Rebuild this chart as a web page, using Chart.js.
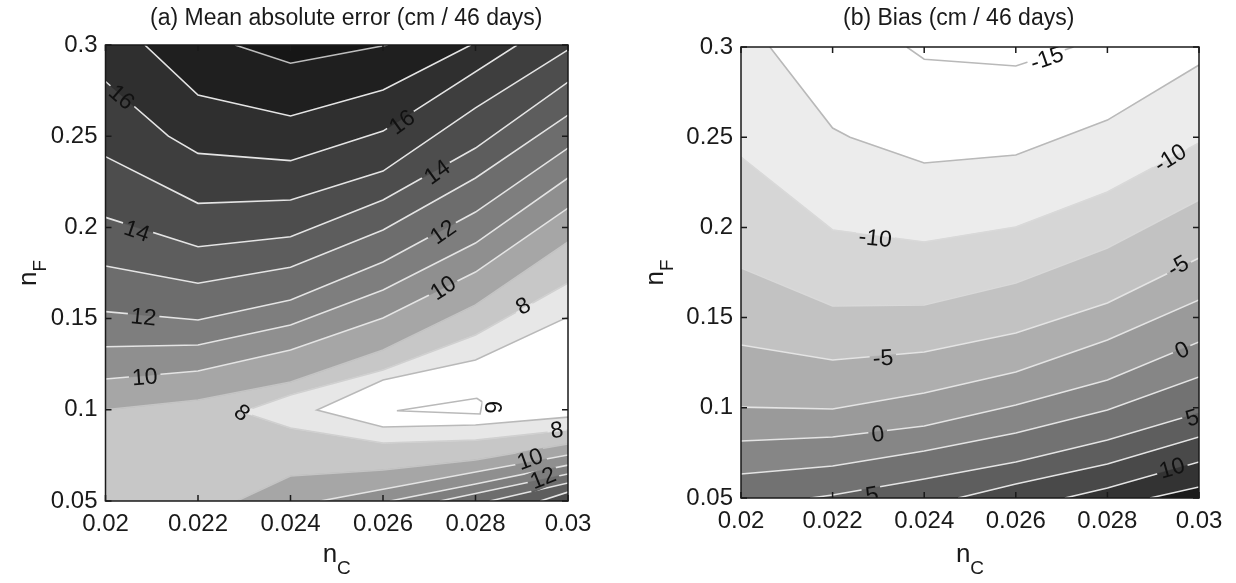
<!DOCTYPE html>
<html>
<head>
<meta charset="utf-8">
<title>Mean absolute error and bias vs nC / nF</title>
<script src="https://cdn.jsdelivr.net/npm/chart.js@4.4.1/dist/chart.umd.min.js"></script>
<style>
  body { margin: 0; background: #fff; }
  #figure { position: relative; width: 1236px; height: 583px; }
  .panel { position: absolute; top: 0; width: 618px; height: 583px; }
</style>
</head>
<body>
<div id="figure">
  <div class="panel" style="left:0"><canvas id="maeChart"></canvas></div>
  <div class="panel" style="left:618px"><canvas id="biasChart"></canvas></div>
</div>
<script>
// axis ticks shared by both panels
const xTicks = [0.02, 0.022, 0.024, 0.026, 0.028, 0.03];
const xTickLabels = ['0.02', '0.022', '0.024', '0.026', '0.028', '0.03'];
const yTicks = [0.05, 0.1, 0.15, 0.2, 0.25, 0.3];
const yTickLabels = ['0.05', '0.1', '0.15', '0.2', '0.25', '0.3'];

// (a) mean absolute error, contour lines as [nC, nF]
const mae18 = [[0.0228, 0.3], [0.024, 0.290], [0.0261, 0.3]];
const mae17 = [[0.02085, 0.3], [0.022, 0.2726], [0.024, 0.2611], [0.026, 0.2753], [0.0279, 0.3]];
const mae16 = [[0.02, 0.28], [0.02136, 0.25], [0.022, 0.2406], [0.024, 0.2366], [0.026, 0.2528], [0.0289, 0.3]];
const mae15 = [[0.02, 0.2388], [0.022, 0.2132], [0.024, 0.215], [0.026, 0.2309], [0.028, 0.2655], [0.03, 0.2973]];
const mae14 = [[0.02, 0.2055], [0.022, 0.1894], [0.024, 0.1949], [0.026, 0.215], [0.028, 0.2435], [0.03, 0.2797]];
const mae13 = [[0.02, 0.1788], [0.022, 0.1694], [0.024, 0.1781], [0.026, 0.1986], [0.028, 0.2271], [0.03, 0.2616]];
const mae12 = [[0.02, 0.1538], [0.022, 0.1492], [0.024, 0.1602], [0.026, 0.181], [0.028, 0.2084], [0.03, 0.2435]];
const mae11 = [[0.02, 0.1346], [0.022, 0.1355], [0.024, 0.1465], [0.026, 0.1657], [0.028, 0.1914], [0.03, 0.2271]];
const mae10 = [[0.02, 0.1169], [0.022, 0.1213], [0.024, 0.1328], [0.026, 0.1503], [0.028, 0.1755], [0.03, 0.2106]];
const mae9 = [[0.02, 0.1], [0.022, 0.1054], [0.024, 0.1152], [0.026, 0.1328], [0.028, 0.1575], [0.03, 0.192]];
const mae8 = [[0.03, 0.1695], [0.028, 0.141], [0.026, 0.1218], [0.024, 0.1081], [0.02295, 0.0988],
              [0.024, 0.09], [0.026, 0.0818], [0.028, 0.0834], [0.03, 0.0889]];
const mae7 = [[0.03, 0.1509], [0.028, 0.1273], [0.026, 0.1163], [0.02457, 0.0999],
              [0.026, 0.0906], [0.028, 0.0917], [0.03, 0.096]];
const mae6 = [[0.0263, 0.0995], [0.02803, 0.1063], [0.02815, 0.1043], [0.0281, 0.0977], [0.0263, 0.0995]];
// lower right branches
const mae9low = [[0.02284, 0.05], [0.024, 0.0637], [0.026, 0.067], [0.028, 0.0725], [0.03, 0.0813]];
const mae10low = [[0.02464, 0.05], [0.026, 0.0564], [0.028, 0.0659], [0.03, 0.0752]];
const mae11low = [[0.02615, 0.05], [0.028, 0.0593], [0.03, 0.0697]];
const mae12low = [[0.02723, 0.05], [0.028, 0.0541], [0.03, 0.0648]];
const mae13low = [[0.02831, 0.05], [0.03, 0.0599]];
const mae14low = [[0.0294, 0.05], [0.03, 0.0549]];
// inline labels: text, nC, nF, angle
const maeLabels = [
  ['16', 0.02035, 0.2715, 41], ['14', 0.02068, 0.198, 19], ['12', 0.02082, 0.1509, 6],
  ['10', 0.02085, 0.118, -4], ['8', 0.02295, 0.0985, 38], ['16', 0.02641, 0.2578, -36],
  ['14', 0.02717, 0.2304, -36], ['12', 0.0273, 0.1975, -35], ['10', 0.0273, 0.1668, -33],
  ['8', 0.02903, 0.1569, -30], ['6', 0.02836, 0.1015, 90], ['8', 0.02976, 0.0889, -8],
  ['10', 0.02918, 0.073, -20], ['12', 0.02946, 0.0626, -22]
];

// (b) bias, contour lines
const biasM15 = [[0.02362, 0.3], [0.024, 0.2932], [0.026, 0.2895], [0.02726, 0.3]];
const biasM125 = [[0.02063, 0.3], [0.022, 0.2551], [0.02238, 0.25], [0.024, 0.2357], [0.026, 0.2401], [0.028, 0.2595], [0.03, 0.29]];
const biasM10 = [[0.02, 0.239], [0.022, 0.1986], [0.024, 0.1919], [0.026, 0.2002], [0.028, 0.2196], [0.03, 0.2468]];
const biasM75 = [[0.02, 0.1775], [0.022, 0.1564], [0.024, 0.157], [0.026, 0.1692], [0.028, 0.1886], [0.03, 0.2152]];
const biasM5 = [[0.02, 0.1348], [0.022, 0.1265], [0.024, 0.1309], [0.026, 0.1415], [0.028, 0.1581], [0.03, 0.183]];
const biasM25 = [[0.02, 0.1004], [0.022, 0.0993], [0.024, 0.1082], [0.026, 0.1198], [0.028, 0.1376], [0.03, 0.1598]];
const bias0 = [[0.02, 0.0816], [0.022, 0.0838], [0.024, 0.0899], [0.026, 0.1016], [0.028, 0.1154], [0.03, 0.1365]];
const biasP25 = [[0.02, 0.0633], [0.022, 0.0677], [0.024, 0.0761], [0.026, 0.086], [0.028, 0.0988], [0.03, 0.1171]];
const biasP5 = [[0.02151, 0.05], [0.022, 0.0517], [0.024, 0.0605], [0.026, 0.07], [0.028, 0.0822], [0.03, 0.0971]];
const biasP75 = [[0.02474, 0.05], [0.026, 0.0578], [0.028, 0.0688], [0.03, 0.0838]];
const biasP10 = [[0.02707, 0.05], [0.028, 0.0555], [0.03, 0.07]];
const biasP125 = [[0.02893, 0.05], [0.03, 0.0561]];
const biasLabels = [
  ['-15', 0.02668, 0.2937, -19], ['-10', 0.02293, 0.1941, 6], ['-10', 0.02937, 0.2385, -32],
  ['-5', 0.0231, 0.1276, -4], ['-5', 0.02954, 0.1786, -30], ['0', 0.02299, 0.0855, -6],
  ['0', 0.02963, 0.132, -26], ['5', 0.02286, 0.0517, -10], ['5', 0.02985, 0.0944, -17],
  ['10', 0.02941, 0.0666, -16]
];

const FONT = '"Liberation Sans", Arial, Helvetica, sans-serif';
const TL = [0.02, 0.3], TR = [0.03, 0.3], BR = [0.03, 0.05], BL = [0.02, 0.05];

function area(pts, color) {
  return {
    data: pts.map(([x, y]) => ({x, y})),
    showLine: true, fill: 'shape', tension: 0,
    backgroundColor: color, borderColor: color, borderWidth: 0.6,
    pointRadius: 0, pointHoverRadius: 0
  };
}
function isoline(pts, color) {
  return {
    data: pts.map(([x, y]) => ({x, y})),
    showLine: true, fill: false, tension: 0,
    borderColor: color, borderWidth: 1.6,
    pointRadius: 0, pointHoverRadius: 0, isContour: true
  };
}

const LIGHT = '#e4e4e4', GREY = '#b9b9b9';

const maeAreas = [
  area([BL, BR, TR, TL], '#c7c7c7'),
  area([...mae9, TR, TL], '#a6a6a6'), area([...mae9low, BR], '#a6a6a6'),
  area([...mae10, TR, TL], '#8f8f8f'), area([...mae10low, BR], '#8f8f8f'),
  area([...mae11, TR, TL], '#7e7e7e'), area([...mae11low, BR], '#7e7e7e'),
  area([...mae12, TR, TL], '#6d6d6d'), area([...mae12low, BR], '#6d6d6d'),
  area([...mae13, TR, TL], '#5d5d5d'), area([...mae13low, BR], '#5d5d5d'),
  area([...mae14, TR, TL], '#4d4d4d'), area([...mae14low, BR], '#4d4d4d'),
  area([...mae15, TR, TL], '#3e3e3e'),
  area([...mae16, TL], '#2f2f2f'),
  area(mae17, '#1f1f1f'),
  area(mae18, '#161616'),
  area(mae8, '#e7e7e7'),
  area(mae7, '#ffffff')
];
const maeLines = [
  isoline(mae18, '#bdbdbd'), isoline(mae17, LIGHT), isoline(mae16, LIGHT), isoline(mae15, LIGHT),
  isoline(mae14, LIGHT), isoline(mae13, LIGHT), isoline(mae12, LIGHT), isoline(mae11, LIGHT),
  isoline(mae10, LIGHT), isoline(mae9, '#c4c4c4'),
  isoline(mae9low, '#c4c4c4'), isoline(mae10low, LIGHT), isoline(mae11low, LIGHT),
  isoline(mae12low, LIGHT), isoline(mae13low, LIGHT), isoline(mae14low, LIGHT),
  isoline(mae8, '#d0d0d0'), isoline(mae7, GREY), isoline(mae6, GREY)
];

const biasAreas = [
  area([BL, BR, TR, TL], '#ffffff'),
  area([...biasM125, BR, BL, TL], '#ececec'),
  area([...biasM10, BR, BL], '#d6d6d6'),
  area([...biasM75, BR, BL], '#c2c2c2'),
  area([...biasM5, BR, BL], '#aeaeae'),
  area([...biasM25, BR, BL], '#9a9a9a'),
  area([...bias0, BR, BL], '#868686'),
  area([...biasP25, BR, BL], '#727272'),
  area([...biasP5, BR], '#5e5e5e'),
  area([...biasP75, BR], '#494949'),
  area([...biasP10, BR], '#333333'),
  area([...biasP125, BR], '#1a1a1a')
];
const biasLines = [
  isoline(biasM15, GREY), isoline(biasM125, GREY), isoline(biasM10, '#d9d9d9'),
  isoline(biasM75, '#d9d9d9'), isoline(biasM5, LIGHT), isoline(biasM25, LIGHT),
  isoline(bias0, LIGHT), isoline(biasP25, LIGHT), isoline(biasP5, LIGHT),
  isoline(biasP75, LIGHT), isoline(biasP10, LIGHT), isoline(biasP125, LIGHT)
];

function labelBox(chart, lab, ctx, size) {
  const px = chart.scales.x.getPixelForValue(lab[1]);
  const py = chart.scales.y.getPixelForValue(lab[2]);
  ctx.font = size + 'px ' + FONT;
  const hw = ctx.measureText(lab[0]).width / 2 + 3, hh = size * 0.42;
  const a = lab[3] * Math.PI / 180, c = Math.cos(a), s = Math.sin(a);
  return [[-hw, -hh], [hw, -hh], [hw, hh], [-hw, hh]].map(([u, v]) => [px + u * c - v * s, py + u * s + v * c]);
}

// cuts gaps in the contour lines under the labels, then draws labels, box, ticks and texts
const figurePlugin = {
  id: 'figure',
  beforeDatasetDraw(chart, args, opts) {
    if (!chart.data.datasets[args.index].isContour) return;
    const ctx = chart.ctx, a = chart.chartArea;
    ctx.save();
    ctx.beginPath();
    ctx.rect(a.left, a.top, a.right - a.left, a.bottom - a.top);
    for (const lab of opts.labels) {
      const box = labelBox(chart, lab, ctx, opts.labelSize);
      ctx.moveTo(box[0][0], box[0][1]);
      for (let i = 1; i < 4; i++) ctx.lineTo(box[i][0], box[i][1]);
      ctx.closePath();
    }
    ctx.clip('evenodd');
  },
  afterDatasetDraw(chart, args) {
    if (chart.data.datasets[args.index].isContour) chart.ctx.restore();
  },
  afterDraw(chart, args, opts) {
    const ctx = chart.ctx, a = chart.chartArea;
    const xs = chart.scales.x, ys = chart.scales.y;

    ctx.save();
    ctx.beginPath();
    ctx.rect(a.left, a.top, a.right - a.left, a.bottom - a.top);
    ctx.clip();
    ctx.font = opts.labelSize + 'px ' + FONT;
    ctx.fillStyle = '#111';
    ctx.textAlign = 'center';
    ctx.textBaseline = 'middle';
    for (const [txt, x, y, ang] of opts.labels) {
      ctx.save();
      ctx.translate(xs.getPixelForValue(x), ys.getPixelForValue(y));
      ctx.rotate(ang * Math.PI / 180);
      ctx.fillText(txt, 0, 1);
      ctx.restore();
    }
    ctx.restore();

    ctx.save();
    ctx.strokeStyle = '#1a1a1a';
    ctx.lineWidth = 1.5;
    ctx.strokeRect(a.left, a.top, a.right - a.left, a.bottom - a.top);
    ctx.beginPath();
    for (const v of xTicks) {
      const p = xs.getPixelForValue(v);
      ctx.moveTo(p, a.bottom); ctx.lineTo(p, a.bottom - 6);
      ctx.moveTo(p, a.top); ctx.lineTo(p, a.top + 6);
    }
    for (const v of yTicks) {
      const p = ys.getPixelForValue(v);
      ctx.moveTo(a.left, p); ctx.lineTo(a.left + 6, p);
      ctx.moveTo(a.right, p); ctx.lineTo(a.right - 6, p);
    }
    ctx.stroke();

    ctx.fillStyle = '#1a1a1a';
    ctx.textAlign = 'left';
    ctx.textBaseline = 'alphabetic';
    ctx.font = '23px ' + FONT;
    ctx.fillText(opts.title, opts.titleX, 25);

    // x label n_C
    ctx.font = '26px ' + FONT;
    const wn = ctx.measureText('n').width;
    ctx.font = '19px ' + FONT;
    const wc = ctx.measureText('C').width;
    const x0 = (a.left + a.right) / 2 - (wn + wc) / 2;
    ctx.font = '26px ' + FONT;
    ctx.fillText('n', x0, 562);
    ctx.font = '19px ' + FONT;
    ctx.fillText('C', x0 + wn, 574);

    // y label n_F
    ctx.translate(opts.yLabelX, (a.top + a.bottom) / 2);
    ctx.rotate(-Math.PI / 2);
    ctx.font = '19px ' + FONT;
    const wf = ctx.measureText('F').width;
    const u0 = -(wn + wf) / 2;
    ctx.font = '26px ' + FONT;
    ctx.fillText('n', u0, 0);
    ctx.font = '19px ' + FONT;
    ctx.fillText('F', u0 + wn, 10);
    ctx.restore();
  }
};

function makePanel(id, areas, lines, cfg) {
  const datasets = [];
  const n = areas.length;
  areas.forEach((d, i) => { d.order = 100 + n - i; datasets.push(d); });
  lines.forEach(d => { d.order = 1; datasets.push(d); });
  const tickFont = { family: FONT, size: 24 };
  return new Chart(document.getElementById(id), {
    type: 'scatter',
    data: { datasets },
    options: {
      responsive: true,
      maintainAspectRatio: false,
      animation: false,
      events: [],
      layout: { padding: cfg.padding },
      plugins: {
        legend: { display: false },
        tooltip: { enabled: false },
        figure: { labels: cfg.labels, labelSize: 23, title: cfg.title, titleX: cfg.titleX, yLabelX: cfg.yLabelX }
      },
      scales: {
        x: {
          type: 'linear', min: 0.02, max: 0.03,
          afterBuildTicks: s => { s.ticks = xTicks.map(v => ({ value: v })); },
          afterFit: s => { s.height = 40; },
          grid: { display: false, drawTicks: false },
          border: { display: false },
          ticks: { autoSkip: false, maxRotation: 0, padding: 9, color: '#1a1a1a', font: tickFont,
                   callback: (v, i) => xTickLabels[i] }
        },
        y: {
          type: 'linear', min: 0.05, max: 0.3,
          afterBuildTicks: s => { s.ticks = yTicks.map(v => ({ value: v })); },
          afterFit: s => { s.width = 60; },
          grid: { display: false, drawTicks: false },
          border: { display: false },
          ticks: { autoSkip: false, padding: 8, color: '#1a1a1a', font: tickFont,
                   callback: (v, i) => yTickLabels[i] }
        }
      }
    },
    plugins: [figurePlugin]
  });
}

makePanel('maeChart', maeAreas, maeLines, {
  padding: { left: 45.5, right: 50, top: 45, bottom: 42 },
  labels: maeLabels,
  title: '(a) Mean absolute error (cm / 46 days)',
  titleX: 150,
  yLabelX: 36
});
makePanel('biasChart', biasAreas, biasLines, {
  padding: { left: 63, right: 37, top: 47, bottom: 45 },
  labels: biasLabels,
  title: '(b) Bias (cm / 46 days)',
  titleX: 225,
  yLabelX: 45
});
</script>
</body>
</html>
